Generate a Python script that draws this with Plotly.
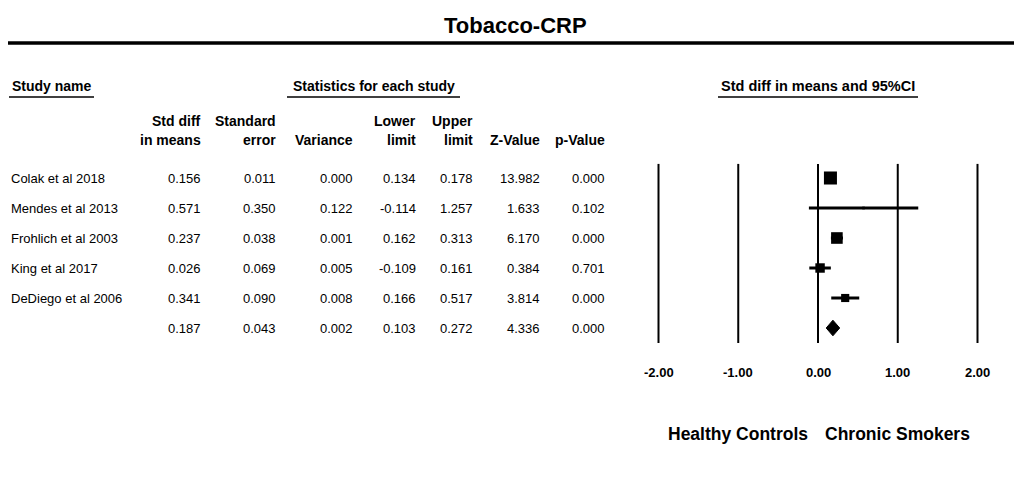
import plotly.graph_objects as go

# ---- data ----
studies = ["Colak et al 2018", "Mendes et al 2013", "Frohlich et al 2003",
           "King et al 2017", "DeDiego et al 2006", ""]
std_diff = [0.156, 0.571, 0.237, 0.026, 0.341, 0.187]
std_err = [0.011, 0.350, 0.038, 0.069, 0.090, 0.043]
variance = [0.000, 0.122, 0.001, 0.005, 0.008, 0.002]
lower = [0.134, -0.114, 0.162, -0.109, 0.166, 0.103]
upper = [0.178, 1.257, 0.313, 0.161, 0.517, 0.272]
z_value = [13.982, 1.633, 6.170, 0.384, 3.814, 4.336]
p_value = [0.000, 0.102, 0.000, 0.701, 0.000, 0.000]
rel_weight = [36.3, 1.5, 28.9, 19.1, 14.2]  # % weight, sets box size
x_ticks = [-2.0, -1.0, 0.0, 1.0, 2.0]
left_label = "Healthy Controls"
right_label = "Chronic Smokers"

W, H = 1014, 489
FONT = "Liberation Sans, Arial, sans-serif"

# pixel layout of the forest panel: x=0 at 818px, 79.75px per unit; row 0 at 178px, 30px per row
X0, XU = 818, 79.75
Y0, YU = 178, 30


def py(p):  # pixel row -> paper y
    return 1 - p / H


def px(p):  # pixel col -> paper x
    return p / W


def txt(text, x, y, size, xref="paper", yref="paper", anchor="center"):
    fig.add_annotation(x=x, y=y, xref=xref, yref=yref, text=text, showarrow=False,
                       xanchor=anchor, yanchor="middle",
                       font=dict(family=FONT, size=size, color="black"))


fig = go.Figure()

n_study = len(rel_weight)
rows = list(range(len(std_diff)))

# confidence intervals
for i in range(n_study):
    fig.add_trace(go.Scatter(
        x=[lower[i], upper[i]], y=[i, i], mode="lines",
        line=dict(color="black", width=3), hoverinfo="skip",
    ))

# study boxes
fig.add_trace(go.Scatter(
    x=std_diff[:n_study], y=rows[:n_study], mode="markers",
    marker=dict(symbol="square", color="black", opacity=1,
                size=[2.16 * w ** 0.5 for w in rel_weight],
                line=dict(width=0)),
    hoverinfo="skip",
))

# summary diamond
s = n_study
h = 0.26
fig.add_trace(go.Scatter(
    x=[lower[s], std_diff[s], upper[s], std_diff[s], lower[s]],
    y=[s, s - h, s, s + h, s], mode="lines", fill="toself",
    fillcolor="black", line=dict(color="black", width=1), hoverinfo="skip",
))

# vertical reference lines + tick labels
for t in x_ticks:
    fig.add_shape(type="line", xref="x", yref="y", x0=t, x1=t, y0=-0.47, y1=5.5,
                  line=dict(color="black", width=2))
    txt(f"<b>{t:.2f}</b>", t, 6.47, 13, xref="x", yref="y")

txt(f"<b>{left_label}</b>", -1, 8.53, 17.5, xref="x", yref="y")
txt(f"<b>{right_label}</b>", 1, 8.53, 17.5, xref="x", yref="y")

# title + rule
txt("<b>Tobacco-CRP</b>", px(515), py(25), 22)
fig.add_shape(type="line", xref="paper", yref="paper", x0=px(8), x1=1,
              y0=py(43), y1=py(43), line=dict(color="black", width=3.5))

# section headers with underlines
sections = [("Study name", 9, 94, "left", 14),
            ("Statistics for each study", 287, 460, "center", 14),
            ("Std diff in means and 95%CI", 718, 918, "center", 14.5)]
for text, a, b, anchor, size in sections:
    xpos = a + 1 if anchor == "left" else (a + b) / 2
    txt(f"<b>{text}</b>", px(xpos), py(86), size, anchor=anchor)
    fig.add_shape(type="line", xref="paper", yref="paper", x0=px(a), x1=px(b),
                  y0=py(97), y1=py(97), line=dict(color="black", width=1.5))

# table columns
columns = [
    ("Std diff<br>in means", std_diff, 203),
    ("Standard<br>error", std_err, 278),
    ("Variance", variance, 355),
    ("Lower<br>limit", lower, 418),
    ("Upper<br>limit", upper, 475),
    ("Z-Value", z_value, 542),
    ("p-Value", p_value, 607),
]
for head, vals, right in columns:
    lines = head.split("<br>")
    if len(lines) == 1:
        lines = ["", lines[0]]
    for k, ln in enumerate(lines):
        if ln:
            txt(f"<b>{ln}</b>", px(right), py(121 + 19 * k), 14, anchor="right")
    for r, v in zip(rows, vals):
        txt(f"{v:.3f}", px(right), r, 13, yref="y", anchor="right")

for r, name in zip(rows, studies):
    if name:
        txt(name, px(9), r, 13, yref="y", anchor="left")

fig.update_layout(
    width=W, height=H, margin=dict(l=0, r=0, t=0, b=0),
    paper_bgcolor="white", plot_bgcolor="white", showlegend=False,
    xaxis=dict(range=[(0 - X0) / XU, (W - X0) / XU], visible=False, fixedrange=True),
    yaxis=dict(range=[(H - Y0) / YU, (0 - Y0) / YU], visible=False, fixedrange=True),
)

fig.write_html("out.html", config={"displayModeBar": False},
               post_script="document.body.style.margin='0';")
